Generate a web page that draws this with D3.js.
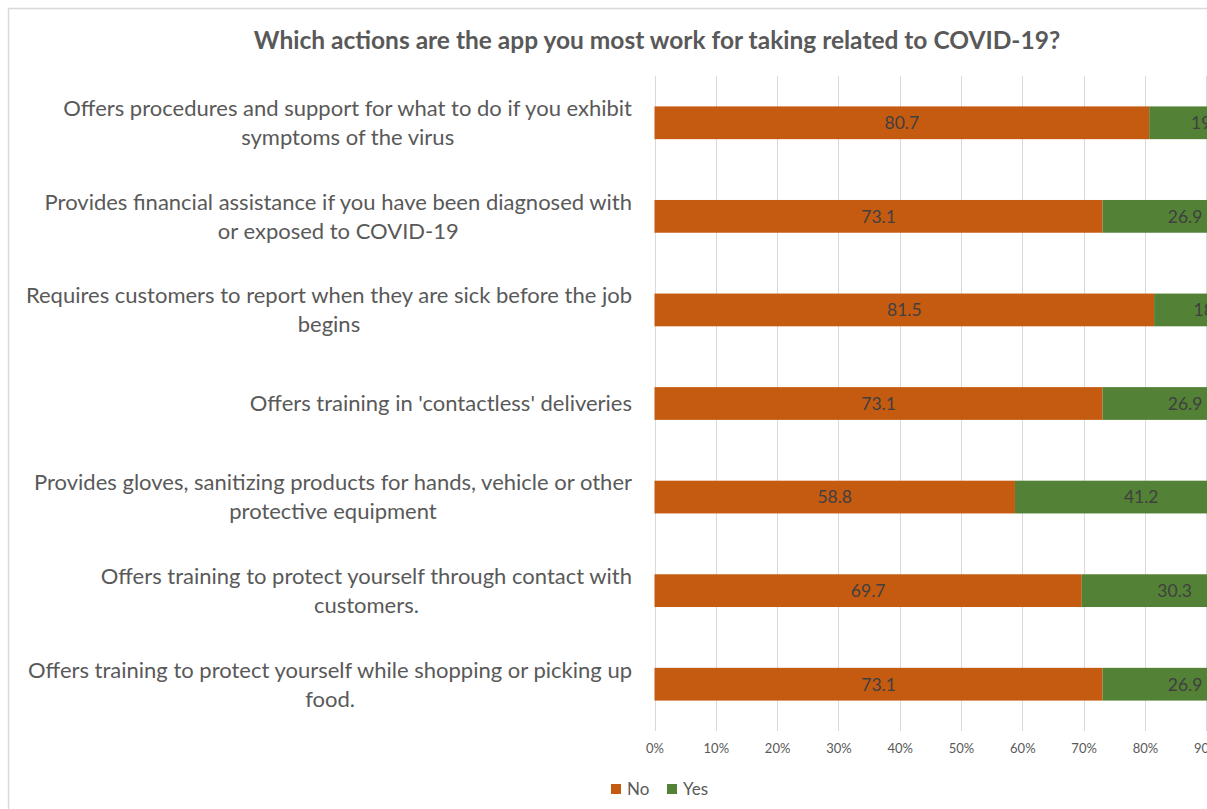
<!DOCTYPE html>
<html>
<head>
<meta charset="utf-8">
<script src="https://cdnjs.cloudflare.com/ajax/libs/d3/7.8.5/d3.min.js"></script>
<style>
  html, body { margin: 0; padding: 0; background: #ffffff; }
  svg { display: block; }
  text { font-family: Lato, "Open Sans", sans-serif; }
</style>
</head>
<body>
<svg id="chart" width="1207" height="809"></svg>
<script>
// Survey answers, one row per action (top to bottom)
const categories = [
  "Offers procedures and support for what to do if you exhibit\nsymptoms of the virus",
  "Provides financial assistance if you have been diagnosed with\nor exposed to COVID-19",
  "Requires customers to report when they are sick before the job\nbegins",
  "Offers training in 'contactless' deliveries",
  "Provides gloves, sanitizing products for hands, vehicle or other\nprotective equipment",
  "Offers training to protect yourself through contact with\ncustomers.",
  "Offers training to protect yourself while shopping or picking up\nfood."
];
const noValues  = [80.7, 73.1, 81.5, 73.1, 58.8, 69.7, 73.1];
const yesValues = [19.3, 26.9, 18.5, 26.9, 41.2, 30.3, 26.9];
const seriesNames = ["No", "Yes"];
const seriesColors = ["#C55A11", "#538135"];
const tickValues = [0, 10, 20, 30, 40, 50, 60, 70, 80, 90, 100];
const titleText = "Which actions are the app you most work for taking related to COVID-19?";

const svg = d3.select("#chart");

// Chart frame (extends past the right and bottom edges)
svg.append("rect")
  .attr("x", 8.5).attr("y", 8.5)
  .attr("width", 1400).attr("height", 900)
  .attr("fill", "#ffffff")
  .attr("stroke", "#d9d9d9").attr("stroke-width", 1.5);

const plotLeft = 654.5, plotRight = 1267.5;
const plotTop = 76, plotBottom = 731;

const x = d3.scaleLinear().domain([0, 100]).range([plotLeft, plotRight]);
const y = d3.scaleBand().domain(d3.range(categories.length))
  .range([plotTop, plotBottom]).paddingInner(0.65).paddingOuter(0.325);

// Title
svg.append("text")
  .attr("x", 657).attr("y", 49)
  .attr("text-anchor", "middle")
  .attr("font-size", 24.5).attr("font-weight", "bold")
  .attr("fill", "#595959")
  .text(titleText);

// Vertical gridlines
svg.append("g").selectAll("line")
  .data(tickValues).join("line")
  .attr("x1", d => Math.round(x(d)) + 0.5).attr("x2", d => Math.round(x(d)) + 0.5)
  .attr("y1", plotTop).attr("y2", plotBottom)
  .attr("stroke", "#d9d9d9").attr("stroke-width", 1);

// Axis tick labels
const xAxis = d3.axisBottom(x).tickValues(tickValues)
  .tickFormat(d => d + "%").tickSize(0).tickPadding(0);
const axisG = svg.append("g")
  .attr("transform", `translate(0, ${plotBottom + 13})`)
  .call(xAxis);
axisG.select(".domain").remove();
axisG.selectAll("text")
  .attr("font-family", "Lato, 'Open Sans', sans-serif")
  .attr("font-size", 13).attr("fill", "#595959");

// Stacked segments
const stackData = categories.map((c, i) => ({ i, No: noValues[i], Yes: yesValues[i] }));
const stacked = d3.stack().keys(seriesNames)(stackData);

const layers = svg.append("g").selectAll("g")
  .data(stacked).join("g")
  .attr("fill", (d, k) => seriesColors[k]);

layers.selectAll("rect")
  .data(d => d).join("rect")
  .attr("x", d => x(d[0]))
  .attr("y", d => y(d.data.i))
  .attr("width", d => x(d[1]) - x(d[0]))
  .attr("height", y.bandwidth());

// Value labels centred in each segment
layers.selectAll("text")
  .data((d, k) => d.map(p => ({ p, v: (k === 0 ? noValues : yesValues)[p.data.i] })))
  .join("text")
  .attr("x", d => (x(d.p[0]) + x(d.p[1])) / 2)
  .attr("y", d => y(d.p.data.i) + y.bandwidth() / 2)
  .attr("dy", "0.36em")
  .attr("text-anchor", "middle")
  .attr("font-size", 17.5)
  .attr("fill", "#404040")
  .text(d => d.v.toFixed(1));

// Category labels: lines centred on each other, block right-aligned to the plot
const lineH = 29;
const labelG = svg.append("g");
categories.forEach((c, i) => {
  const lines = c.split("\n");
  const cy = y(i) + y.bandwidth() / 2;
  const g = labelG.append("g");
  const texts = lines.map((ln, j) => g.append("text")
    .attr("y", cy + (j - (lines.length - 1) / 2) * lineH)
    .attr("dy", "0.36em")
    .attr("text-anchor", "middle")
    .attr("font-size", 22)
    .attr("fill", "#595959")
    .text(ln));
  const widths = texts.map(t => t.node().getComputedTextLength());
  const maxW = d3.max(widths);
  const centerX = 632 - maxW / 2;
  texts.forEach(t => t.attr("x", centerX));
});

// Legend
const legend = svg.append("g").attr("transform", "translate(611, 789)");
const legendX = [0, 56];
seriesNames.forEach((name, k) => {
  legend.append("rect")
    .attr("x", legendX[k]).attr("y", -5)
    .attr("width", 10).attr("height", 10)
    .attr("fill", seriesColors[k]);
  legend.append("text")
    .attr("x", legendX[k] + 16).attr("y", 0)
    .attr("dy", "0.36em")
    .attr("font-size", 17).attr("fill", "#595959")
    .text(name);
});
</script>
</body>
</html>
